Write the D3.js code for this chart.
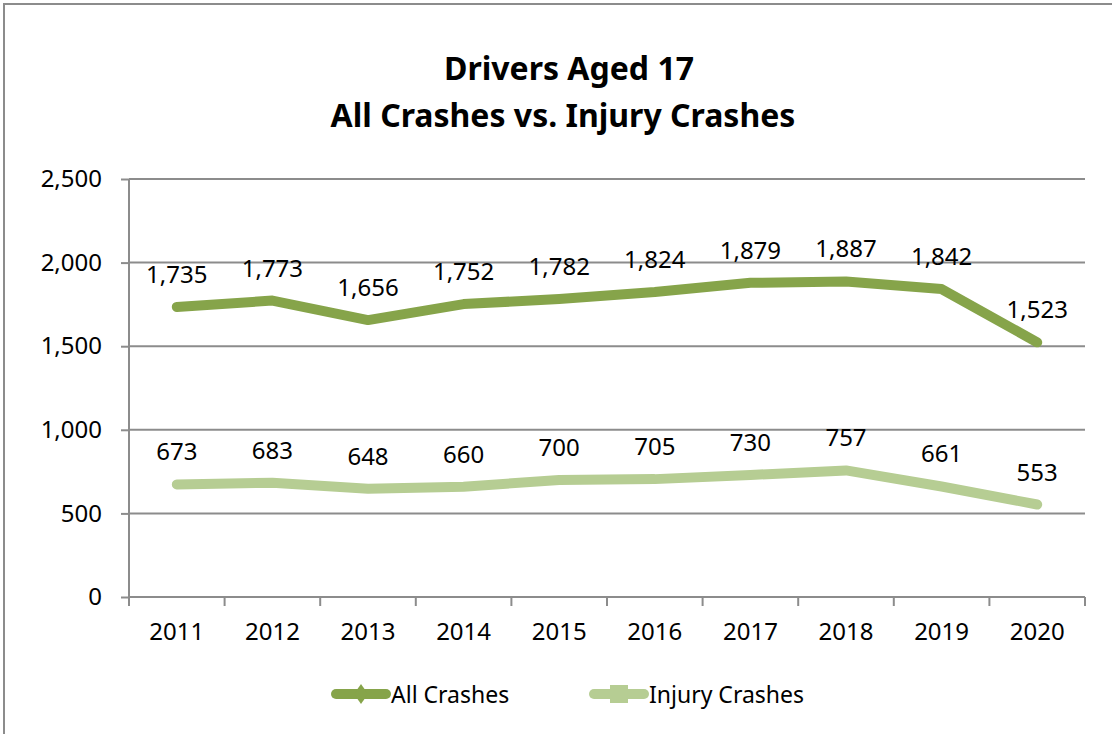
<!DOCTYPE html>
<html>
<head>
<meta charset="utf-8">
<script src="https://cdn.jsdelivr.net/npm/d3@7"></script>
<style>
  body { margin: 0; background: #fff; }
  svg { display: block; font-family: "Noto Sans", "Open Sans", sans-serif; }
</style>
</head>
<body>
<div id="chart"></div>
<script>
const WIDTH = 1112;
const HEIGHT = 734;

const years = ["2011", "2012", "2013", "2014", "2015", "2016", "2017", "2018", "2019", "2020"];
const allCrashes = [1735, 1773, 1656, 1752, 1782, 1824, 1879, 1887, 1842, 1523];
const injuryCrashes = [673, 683, 648, 660, 700, 705, 730, 757, 661, 553];
const yTicks = [0, 500, 1000, 1500, 2000, 2500];
const titleLines = ["Drivers Aged 17", "All Crashes vs. Injury Crashes"];

const series = [
  {name: "All Crashes", values: allCrashes, color: "#86a44a", marker: "diamond"},
  {name: "Injury Crashes", values: injuryCrashes, color: "#b6cd93", marker: "square"}
];

let margin = {top: 179, right: 27, bottom: 137, left: 129};
let width = WIDTH - margin.left - margin.right;
let height = HEIGHT - margin.top - margin.bottom;

let svg = d3.select("#chart").append("svg")
    .attr("width", WIDTH)
    .attr("height", HEIGHT);

// outer chart border
svg.append("rect")
    .attr("x", 4).attr("y", 4)
    .attr("width", WIDTH + 20).attr("height", HEIGHT + 20)
    .attr("fill", "none")
    .attr("stroke", "#8c8c8c")
    .attr("stroke-width", 2);

// title
svg.append("text")
    .attr("text-anchor", "middle")
    .style("font-weight", "bold")
    .style("font-size", "32px")
    .selectAll("tspan")
    .data(titleLines)
  .enter().append("tspan")
    .attr("x", d => d === titleLines[0] ? 569 : 563)
    .attr("y", (d, i) => 80 + i * 47)
    .text(d => d);

let g = svg.append("g")
    .attr("transform", "translate(" + margin.left + "," + margin.top + ")");

let x = d3.scaleBand().domain(years).range([0, width]);
let y = d3.scaleLinear().domain([0, 2500]).range([height, 0]);

// gridlines
g.append("g")
    .selectAll("line")
    .data(yTicks.slice(1))
  .enter().append("line")
    .attr("x1", 0).attr("x2", width)
    .attr("y1", d => y(d)).attr("y2", d => y(d))
    .attr("stroke", "#8c8c8c")
    .attr("stroke-width", 2);

// y axis
let yAxis = g.append("g")
    .call(d3.axisLeft(y).tickValues(yTicks).tickSize(8).tickPadding(19).tickFormat(d3.format(",")));
yAxis.select(".domain").attr("stroke", "#8c8c8c").attr("stroke-width", 2).attr("d", "M0," + height + "V0");
yAxis.selectAll(".tick line").attr("stroke", "#8c8c8c").attr("stroke-width", 2);
yAxis.selectAll(".tick text").style("font-size", "24px").attr("fill", "#000")
    .style("font-family", "'Noto Sans', sans-serif");

// x axis
let xAxis = g.append("g")
    .attr("transform", "translate(0," + height + ")")
    .call(d3.axisBottom(x).tickSize(0).tickPadding(26));
xAxis.select(".domain").attr("stroke", "#8c8c8c").attr("stroke-width", 2).attr("d", "M0,0H" + width);
xAxis.selectAll(".tick text").style("font-size", "24px").attr("fill", "#000")
    .style("font-family", "'Noto Sans', sans-serif");
// tick marks between categories
g.append("g")
    .attr("transform", "translate(0," + height + ")")
    .selectAll("line")
    .data(years.concat(["end"]))
  .enter().append("line")
    .attr("x1", (d, i) => i * x.bandwidth()).attr("x2", (d, i) => i * x.bandwidth())
    .attr("y1", 0).attr("y2", 9)
    .attr("stroke", "#8c8c8c")
    .attr("stroke-width", 2);

let cx = d => x(d) + x.bandwidth() / 2;

let line = d3.line()
    .x(d => cx(d.year))
    .y(d => y(d.value));

for (const s of series) {
  let pts = years.map((yr, i) => ({year: yr, value: s.values[i]}));
  g.append("path")
      .datum(pts)
      .attr("d", line)
      .attr("fill", "none")
      .attr("stroke", s.color)
      .attr("stroke-width", 10)
      .attr("stroke-linecap", "round")
      .attr("stroke-linejoin", "round");

  g.append("g")
      .selectAll("text")
      .data(pts)
    .enter().append("text")
      .attr("x", d => cx(d.year))
      .attr("y", d => y(d.value) - 24)
      .attr("text-anchor", "middle")
      .style("font-size", "24px")
      .attr("fill", "#000")
      .text(d => d3.format(",")(d.value));
}

// legend
let legend = svg.append("g").attr("transform", "translate(0,694)");
let legendX = [332, 590];
series.forEach((s, i) => {
  let lg = legend.append("g").attr("transform", "translate(" + legendX[i] + ",0)");
  lg.append("line")
      .attr("x1", 4).attr("x2", 54)
      .attr("stroke", s.color)
      .attr("stroke-width", 10)
      .attr("stroke-linecap", "round");
  if (s.marker === "diamond") {
    lg.append("path")
        .attr("d", "M29,-10L36,0L29,10L22,0Z")
        .attr("fill", s.color);
  } else {
    lg.append("rect")
        .attr("x", 20).attr("y", -9).attr("width", 18).attr("height", 18)
        .attr("fill", s.color);
  }
  lg.append("text")
      .attr("x", 59)
      .attr("y", 9)
      .style("font-size", "23px")
      .attr("fill", "#000")
      .text(s.name);
});
</script>
</body>
</html>
